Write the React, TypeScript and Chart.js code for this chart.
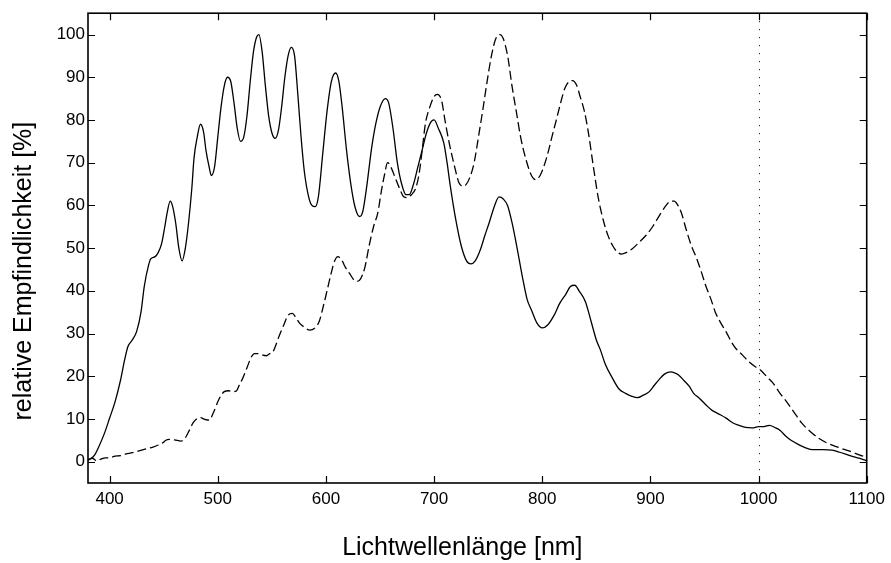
import React, { useEffect, useRef } from 'react';
import { Chart, registerables } from 'chart.js';

Chart.register(...registerables);

// Solid curve
const solidWavelengths = [
  380, 383, 386, 390, 395, 400, 405, 410, 414, 417, 421, 425, 429, 432, 436, 438, 442, 445, 448, 451,
  453, 456, 458, 461, 464, 467, 470, 473, 476, 478, 481, 484, 487, 489, 492, 494, 497, 500, 503, 506,
  509, 512, 515, 518, 521, 524, 527, 530, 533, 536, 538, 541, 544, 547, 550, 553, 556, 559, 562, 565,
  568, 571, 574, 577, 580, 584, 587, 590, 593, 597, 601, 605, 609, 612, 615, 619, 623, 627, 631, 634,
  638, 642, 646, 650, 655, 658, 662, 666, 670, 674, 677, 681, 685, 689, 693, 697, 700, 704, 709, 712,
  715, 720, 725, 730, 734, 738, 743, 747, 751, 756, 760, 764, 768, 772, 776, 782, 786, 790, 795, 800,
  805, 811, 816, 822, 826, 830, 834, 840, 845, 850, 854, 858, 865, 871, 877, 883, 888, 893, 899, 904,
  908, 913, 919, 922, 926, 931, 936, 940, 945, 951, 957, 963, 970, 976, 982, 988, 994, 1000, 1005, 1010,
  1015, 1020, 1025, 1030, 1037, 1043, 1050, 1060, 1068, 1075, 1086, 1093, 1100,
];
const solidValues = [
  0.5, 0.8, 1.5, 3.5, 6.5, 10.2, 14, 19, 24, 27, 28.5, 30.5, 35, 41, 46, 47.5, 48, 49, 51, 55,
  58, 61, 60, 56, 50, 47, 50, 56, 64, 71, 76, 79, 77, 73, 69, 67, 69, 76, 83, 88,
  90, 89, 84, 78, 75, 76, 81, 89, 96, 99.5, 100, 96, 88, 81, 77, 75.7, 77.5, 83, 90, 95,
  97, 95, 86, 76, 68, 62, 60, 59.7, 62, 72, 82, 89, 91, 89, 83, 73, 65, 59.5, 57.4, 58.5,
  65, 73, 79, 83, 85, 84, 78, 70, 65, 62.5, 62.5, 65, 69, 73, 77, 79.5, 80, 78, 74.6, 70,
  64.5, 56.7, 50.6, 47, 46.3, 47, 49.8, 53, 56, 60, 62, 61.5, 59.9, 56, 51, 42.8, 38, 35.5, 32.5, 31.3,
  32, 34.3, 37, 39.3, 41, 41.3, 40, 37.4, 33, 28.5, 26, 23, 19.5, 17, 16, 15.3, 15, 15.5, 16.4, 18,
  19.2, 20.5, 21, 20.8, 20.3, 19, 17.6, 16, 14.9, 13.4, 12, 11.2, 10.2, 9.1, 8.5, 8, 7.9, 8.2, 8.2, 8.5,
  8, 7.3, 6, 5, 4, 3.3, 2.8, 2.8, 2.7, 2.2, 1.3, 0.8, 0.2,
];

// Dashed curve
const dashedWavelengths = [
  380, 384, 388, 392, 396, 400, 405, 410, 415, 421, 428, 434, 440, 445, 449, 452, 455, 460, 466, 469,
  471, 474, 477, 480, 484, 488, 492, 496, 500, 503, 506, 510, 514, 517, 520, 523, 527, 531, 534, 538,
  541, 545, 548, 551, 554, 557, 561, 565, 569, 572, 576, 580, 585, 591, 594, 597, 601, 605, 608, 611,
  615, 618, 622, 626, 629, 632, 636, 640, 644, 648, 651, 654, 657, 660, 664, 668, 672, 675, 679, 683,
  686, 689, 692, 696, 700, 703, 707, 710, 714, 719, 723, 727, 729, 733, 737, 741, 745, 749, 753, 757,
  761, 764, 768, 772, 776, 780, 785, 790, 794, 798, 802, 806, 809, 813, 817, 821, 825, 828, 832, 835,
  839, 843, 847, 852, 857, 861, 865, 869, 873, 878, 883, 889, 896, 902, 908, 913, 918, 922, 925, 929,
  933, 938, 943, 947, 951, 956, 960, 965, 970, 975, 979, 985, 991, 997, 1002, 1008, 1013, 1019, 1026, 1033,
  1040, 1048, 1056, 1063, 1071, 1080, 1087, 1093, 1100,
];
const dashedValues = [
  0.3, 0.8, 0.2, 0.6, 0.9, 0.9, 1.3, 1.4, 1.8, 2.1, 2.6, 3.0, 3.4, 3.9, 4.4, 5.0, 5.2, 5.1, 4.8, 5.3,
  6, 7.5, 9, 9.9, 10.3, 9.9, 9.7, 11.5, 14, 15.5, 16.4, 16.6, 16.4, 16.5, 18, 19.5, 22, 24.5, 25.3, 25.3,
  25, 24.8, 25.3, 25.7, 27.5, 29.6, 32, 34.3, 34.7, 33.8, 32.3, 31.5, 30.8, 31.6, 33, 35.8, 40, 44.3, 47, 48,
  47, 45.5, 44, 42.5, 42.2, 42.8, 45.5, 50.6, 55, 58.3, 63, 67, 70, 69, 66.5, 64, 62, 61.8, 62.5, 64,
  67.2, 73, 79.2, 83, 85.5, 86, 84.5, 80, 74.6, 69, 65.3, 64.5, 64.7, 66.5, 70, 76, 82.3, 89, 95, 99,
  100, 99, 95, 88, 82, 76, 70.7, 67, 66, 67, 69.5, 73, 76.1, 80, 84, 87.5, 89, 89.2, 88, 85.5,
  82, 76.5, 69.5, 61.5, 56, 52.8, 50.6, 49.2, 48.6, 49, 49.8, 51.2, 53, 55, 57.5, 59.5, 60.9, 61, 60.2, 58,
  54.4, 50.5, 47.4, 44.5, 41.3, 38, 35, 32.5, 30.4, 28, 26.5, 25, 23.4, 22.2, 21.4, 19.8, 18.5, 16.3, 14, 11.5,
  9, 7, 5.4, 4.4, 3.6, 2.8, 2.2, 1.6, 1,
];

const xTicks = [400, 500, 600, 700, 800, 900, 1000, 1100];
const yTicks = [0, 10, 20, 30, 40, 50, 60, 70, 80, 90, 100];
const xTitle = 'Lichtwellenlänge [nm]';
const yTitle = 'relative Empfindlichkeit [%]';
const markerWavelength = 1000;

const FONT = '"Liberation Sans", Arial, Helvetica, sans-serif';

const framePlugin = {
  id: 'frame',
  afterDatasetsDraw(chart: any) {
    const { ctx, chartArea: a, scales } = chart;
    const x = scales.x;
    const y = scales.y;
    ctx.save();
    ctx.strokeStyle = '#000';
    // dotted marker line
    const mx = x.getPixelForValue(markerWavelength);
    ctx.lineWidth = 1;
    ctx.setLineDash([1, 7]);
    ctx.beginPath();
    ctx.moveTo(Math.round(mx) + 0.5, a.top);
    ctx.lineTo(Math.round(mx) + 0.5, a.bottom);
    ctx.stroke();
    ctx.setLineDash([]);
    // inward ticks
    ctx.lineWidth = 1.2;
    const tl = 7;
    ctx.beginPath();
    for (const v of xTicks) {
      const px = Math.round(x.getPixelForValue(v)) + 0.5;
      ctx.moveTo(px, a.bottom);
      ctx.lineTo(px, a.bottom - tl);
      ctx.moveTo(px, a.top);
      ctx.lineTo(px, a.top + tl);
    }
    for (const v of yTicks) {
      const py = Math.round(y.getPixelForValue(v)) + 0.5;
      ctx.moveTo(a.left, py);
      ctx.lineTo(a.left + tl, py);
      ctx.moveTo(a.right, py);
      ctx.lineTo(a.right - tl, py);
    }
    ctx.stroke();
    // frame
    ctx.lineWidth = 1.6;
    ctx.strokeRect(a.left, a.top, a.right - a.left, a.bottom - a.top);
    // axis titles
    ctx.fillStyle = '#000';
    ctx.font = `25px ${FONT}`;
    ctx.textAlign = 'center';
    ctx.textBaseline = 'middle';
    ctx.fillText(xTitle, (a.left + a.right) / 2 - 15, a.bottom + 65);
    ctx.translate(a.left - 64, (a.top + a.bottom) / 2 + 23);
    ctx.rotate(-Math.PI / 2);
    ctx.fillText(yTitle, 0, 0);
    ctx.restore();
  },
};

export default function App() {
  const canvasRef = useRef<HTMLCanvasElement | null>(null);

  useEffect(() => {
    const canvas = canvasRef.current;
    if (!canvas) return;
    const solid = solidWavelengths.map((w, i) => ({ x: w, y: solidValues[i] }));
    const dashed = dashedWavelengths.map((w, i) => ({ x: w, y: dashedValues[i] }));
    const chart = new Chart(canvas, {
      type: 'line',
      data: {
        datasets: [
          {
            label: 'solid',
            data: solid,
            borderColor: '#000',
            borderWidth: 1.3,
            pointRadius: 0,
            cubicInterpolationMode: 'monotone',
            fill: false,
          },
          {
            label: 'dashed',
            data: dashed,
            borderColor: '#000',
            borderWidth: 1.3,
            borderDash: [9, 4],
            pointRadius: 0,
            cubicInterpolationMode: 'monotone',
            fill: false,
          },
        ],
      },
      options: {
        animation: false,
        responsive: true,
        maintainAspectRatio: false,
        layout: { padding: { top: 9, right: 23, left: 0, bottom: 0 } },
        plugins: { legend: { display: false }, tooltip: { enabled: false } },
        scales: {
          x: {
            type: 'linear',
            min: 380,
            max: 1100,
            afterBuildTicks: (s: any) => {
              s.ticks = xTicks.map((v) => ({ value: v }));
            },
            afterFit: (s: any) => {
              s.height = 80;
            },
            grid: { display: false, drawTicks: false },
            border: { display: false },
            ticks: {
              color: '#000',
              padding: 6,
              maxRotation: 0,
              autoSkip: false,
              font: { family: FONT, size: 17 },
              callback: (v: any) => String(v),
            },
          },
          y: {
            type: 'linear',
            min: -5,
            max: 105,
            afterBuildTicks: (s: any) => {
              s.ticks = yTicks.map((v) => ({ value: v }));
            },
            afterFit: (s: any) => {
              s.width = 88;
            },
            grid: { display: false, drawTicks: false },
            border: { display: false },
            ticks: {
              color: '#000',
              padding: 3,
              autoSkip: false,
              font: { family: FONT, size: 17 },
              callback: (v: any) => String(v),
            },
          },
        },
      },
      plugins: [framePlugin],
    });
    return () => chart.destroy();
  }, []);

  return (
    <div style={{ position: 'fixed', left: 0, top: 0, width: 891, height: 563, background: '#fff' }}>
      <canvas ref={canvasRef} />
    </div>
  );
}
